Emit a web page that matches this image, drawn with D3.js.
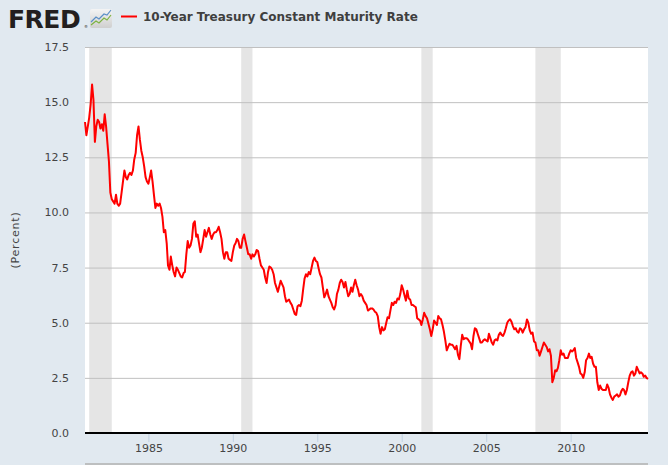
<!DOCTYPE html>
<html>
<head>
<meta charset="utf-8">
<script src="https://cdn.jsdelivr.net/npm/d3@7"></script>
<style>
  body { margin: 0; background: #e1e9f0; }
  svg { display: block; font-family: "DejaVu Sans", Verdana, sans-serif; }
</style>
</head>
<body>
<svg id="chart"></svg>
<script>
const W = 668, H = 465;
const margin = { top: 47, right: 20, bottom: 32, left: 85 };

// Monthly 10-year rate, starting April 1981 (one row per year)
const firstMonth = new Date(1981, 3, 1);
const rates = [
  14.1, 13.5, 13.9, 14.3, 14.9, 15.8, 15.1, 13.2, 13.9,                 // 1981 (Apr-Dec)
  14.2, 14.1, 13.8, 14.0, 13.7, 14.45, 13.9, 13.1, 12.3, 10.9, 10.6, 10.5, // 1982
  10.4, 10.8, 10.4, 10.3, 10.4, 10.9, 11.4, 11.9, 11.6, 11.5, 11.7, 11.8,  // 1983
  11.7, 11.9, 12.4, 12.7, 13.5, 13.9, 13.3, 12.8, 12.5, 12.1, 11.6, 11.4,  // 1984
  11.3, 11.6, 11.9, 11.4, 10.8, 10.2, 10.4, 10.3, 10.4, 10.2, 9.8, 9.1,    // 1985
  9.2, 8.6, 7.6, 7.4, 8.0, 7.6, 7.3, 7.1, 7.5, 7.4, 7.25, 7.1,             // 1986
  7.05, 7.25, 7.3, 8.1, 8.7, 8.4, 8.5, 8.8, 9.5, 9.6, 8.9, 9.0,            // 1987
  8.6, 8.2, 8.4, 8.8, 9.2, 8.9, 9.1, 9.3, 9.0, 8.8, 9.0, 9.1,              // 1988
  9.1, 9.2, 9.35, 9.1, 8.8, 8.2, 7.9, 8.2, 8.2, 7.9, 7.85, 7.8,            // 1989
  8.2, 8.5, 8.6, 8.8, 8.7, 8.4, 8.4, 8.8, 9.0, 8.7, 8.4, 8.1,              // 1990
  8.1, 7.9, 8.1, 8.0, 8.1, 8.3, 8.25, 7.9, 7.6, 7.5, 7.4, 7.05,            // 1991
  6.8, 7.3, 7.55, 7.5, 7.4, 7.2, 6.8, 6.6, 6.4, 6.65, 6.9, 6.75,           // 1992
  6.6, 6.2, 5.95, 6.0, 6.05, 5.9, 5.8, 5.6, 5.4, 5.35, 5.75, 5.8,          // 1993
  5.75, 6.0, 6.5, 7.0, 7.2, 7.1, 7.3, 7.2, 7.5, 7.8, 7.95, 7.8,            // 1994
  7.75, 7.45, 7.2, 7.05, 6.6, 6.15, 6.3, 6.5, 6.2, 6.05, 5.9, 5.7,         // 1995
  5.6, 5.8, 6.3, 6.5, 6.8, 6.95, 6.85, 6.6, 6.85, 6.5, 6.2, 6.3,           // 1996
  6.6, 6.4, 6.7, 6.95, 6.7, 6.5, 6.2, 6.3, 6.2, 6.0, 5.9, 5.8,             // 1997
  5.55, 5.6, 5.65, 5.65, 5.6, 5.5, 5.45, 5.3, 4.8, 4.5, 4.8, 4.65,         // 1998
  4.7, 5.0, 5.25, 5.2, 5.55, 5.9, 5.8, 5.95, 5.9, 6.1, 6.05, 6.3,          // 1999
  6.7, 6.5, 6.25, 6.0, 6.45, 6.1, 6.05, 5.8, 5.8, 5.75, 5.7, 5.2,          // 2000
  5.15, 5.1, 4.9, 5.15, 5.45, 5.3, 5.2, 4.95, 4.7, 4.4, 4.7, 5.1,          // 2001
  5.0, 4.9, 5.3, 5.2, 5.15, 4.9, 4.6, 4.2, 3.75, 3.9, 4.05, 4.0,           // 2002
  4.0, 3.9, 3.8, 3.95, 3.55, 3.35, 3.95, 4.45, 4.25, 4.3, 4.3, 4.25,       // 2003
  4.15, 4.05, 3.8, 4.4, 4.75, 4.7, 4.5, 4.3, 4.1, 4.1, 4.2, 4.25,          // 2004
  4.2, 4.15, 4.5, 4.3, 4.1, 4.0, 4.2, 4.25, 4.2, 4.45, 4.55, 4.45,         // 2005
  4.4, 4.55, 4.75, 5.0, 5.1, 5.15, 5.05, 4.85, 4.7, 4.75, 4.6, 4.55,       // 2006
  4.75, 4.7, 4.55, 4.7, 4.8, 5.15, 5.0, 4.65, 4.5, 4.55, 4.15, 4.1,        // 2007
  3.75, 3.75, 3.5, 3.7, 3.9, 4.1, 4.0, 3.9, 3.7, 3.8, 3.5, 2.3,            // 2008
  2.5, 2.85, 2.8, 2.95, 3.3, 3.75, 3.55, 3.6, 3.4, 3.4, 3.4, 3.6,          // 2009
  3.75, 3.7, 3.75, 3.85, 3.4, 3.2, 3.0, 2.7, 2.65, 2.5, 2.75, 3.3,         // 2010
  3.4, 3.6, 3.4, 3.45, 3.15, 3.0, 3.0, 2.3, 1.95, 2.15, 2.0, 1.95,         // 2011
  1.95, 1.95, 2.2, 2.05, 1.75, 1.6, 1.5, 1.65, 1.7, 1.75, 1.65, 1.7,       // 2012
  1.9, 2.0, 1.95, 1.75, 1.95, 2.3, 2.6, 2.75, 2.8, 2.6, 2.7, 3.0,          // 2013
  2.85, 2.7, 2.75, 2.7, 2.55, 2.6, 2.5, 2.45                               // 2014 (Jan-Aug)
];

// Recessions (shaded)
const recessionStarts = ["1981-07-01", "1990-07-01", "2001-03-01", "2007-12-01"];
const recessionEnds   = ["1982-11-01", "1991-03-01", "2001-11-01", "2009-06-01"];

const yTicks = [0, 2.5, 5, 7.5, 10, 12.5, 15, 17.5];
const xTickYears = [1985, 1990, 1995, 2000, 2005, 2010];

const title = "10-Year Treasury Constant Maturity Rate";
const yLabel = "(Percent)";

const data = rates.map((v, i) => ({ date: d3.timeMonth.offset(firstMonth, i), value: v }));
const parse = d3.timeParse("%Y-%m-%d");

const svg = d3.select("#chart").attr("width", W).attr("height", H);

const x = d3.scaleTime()
  .domain(d3.extent(data, d => d.date))
  .range([margin.left, W - margin.right]);
const y = d3.scaleLinear()
  .domain([0, 17.5])
  .range([H - margin.bottom, margin.top]);

// header: FRED logo, icon, legend
const header = svg.append("g");
header.append("text")
  .attr("x", 8).attr("y", 28)
  .style("font-size", "25px").style("font-weight", "bold")
  .style("letter-spacing", "-0.5px")
  .attr("fill", "#231f20")
  .text("FRED");
header.append("text")
  .attr("x", 84).attr("y", 28)
  .style("font-size", "4px").attr("fill", "#231f20")
  .text("®");

const grad = svg.append("defs").append("linearGradient")
  .attr("id", "iconGrad").attr("x1", 0).attr("y1", 0).attr("x2", 0).attr("y2", 1);
grad.append("stop").attr("offset", "0%").attr("stop-color", "#f4f4f4");
grad.append("stop").attr("offset", "100%").attr("stop-color", "#cfcfcf");
header.append("rect")
  .attr("x", 90).attr("y", 9).attr("width", 22).attr("height", 19).attr("rx", 2)
  .attr("fill", "url(#iconGrad)");
header.append("path")
  .attr("d", "M91,22 L96,17 L99,19 L104,14 L107,15 L111,10")
  .attr("fill", "none").attr("stroke", "#5b8fc7").attr("stroke-width", 1.2);
header.append("path")
  .attr("d", "M91,25 L96,21 L99,23 L104,18 L107,20 L111,15")
  .attr("fill", "none").attr("stroke", "#7cb342").attr("stroke-width", 1.2);

header.append("line")
  .attr("x1", 121).attr("x2", 137).attr("y1", 16.5).attr("y2", 16.5)
  .attr("stroke", "#ff0000").attr("stroke-width", 2);
header.append("text")
  .attr("x", 143).attr("y", 21)
  .style("font-size", "12px").style("font-weight", "bold")
  .attr("fill", "#3f3f3f")
  .text(title);

// plot background
svg.append("rect")
  .attr("x", margin.left).attr("y", margin.top)
  .attr("width", W - margin.left - margin.right)
  .attr("height", H - margin.top - margin.bottom)
  .attr("fill", "#ffffff");

// recession bands
svg.append("g").selectAll("rect")
  .data(recessionStarts.map((s, i) => ({ start: parse(s), end: parse(recessionEnds[i]) })))
  .join("rect")
  .attr("x", d => x(d.start))
  .attr("width", d => x(d.end) - x(d.start))
  .attr("y", margin.top)
  .attr("height", H - margin.top - margin.bottom)
  .attr("fill", "#e5e5e5");

// horizontal grid + y labels
const yAxis = svg.append("g")
  .attr("transform", `translate(${margin.left},0)`)
  .call(d3.axisLeft(y).tickValues(yTicks).tickFormat(d3.format(".1f"))
    .tickSize(-(W - margin.left - margin.right)).tickPadding(16));
yAxis.select(".domain").remove();
yAxis.selectAll(".tick line").attr("stroke", "#c0c0c0");
yAxis.selectAll(".tick text")
  .attr("fill", "#444").style("font-size", "11px")
  .style("font-family", "'DejaVu Sans', Verdana, sans-serif");

// x axis
const xAxis = svg.append("g")
  .attr("transform", `translate(0,${H - margin.bottom})`)
  .call(d3.axisBottom(x)
    .tickValues(xTickYears.map(yr => new Date(yr, 0, 1)))
    .tickFormat(d3.timeFormat("%Y"))
    .tickSize(9).tickPadding(2));
xAxis.select(".domain").remove();
xAxis.selectAll(".tick line").attr("stroke", "#c0d0e0");
xAxis.selectAll(".tick text")
  .attr("fill", "#444").style("font-size", "11px")
  .style("font-family", "'DejaVu Sans', Verdana, sans-serif");

svg.append("line")
  .attr("x1", margin.left).attr("x2", W - margin.right)
  .attr("y1", y(0)).attr("y2", y(0))
  .attr("stroke", "#000").attr("stroke-width", 2);

svg.append("line")
  .attr("x1", margin.left).attr("x2", W - margin.right)
  .attr("y1", H - 1).attr("y2", H - 1)
  .attr("stroke", "#b0b0b0").attr("stroke-width", 1.5);

// y label
svg.append("text")
  .attr("transform", `translate(19,${(margin.top + H - margin.bottom) / 2}) rotate(-90)`)
  .attr("text-anchor", "middle")
  .style("font-size", "11px").style("letter-spacing", "0.8px")
  .attr("fill", "#444")
  .text(yLabel);

// series line
const line = d3.line()
  .x(d => x(d.date))
  .y(d => y(d.value));

svg.append("path")
  .datum(data)
  .attr("fill", "none")
  .attr("stroke", "#ff0000")
  .attr("stroke-width", 2)
  .attr("stroke-linejoin", "round")
  .attr("d", line);
</script>
</body>
</html>
